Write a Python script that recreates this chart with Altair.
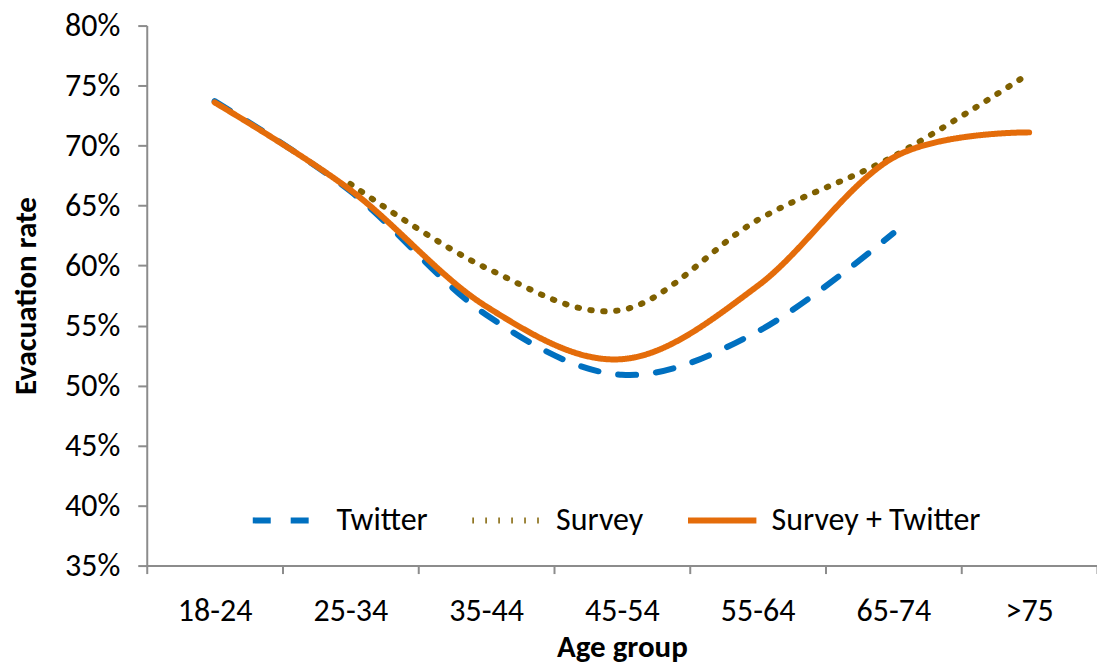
import altair as alt
import pandas as pd

ages = ["18-24", "25-34", "35-44", "45-54", "55-64", "65-74", ">75"]
twitter = [0.737, 0.662, 0.559, 0.509, 0.545, 0.627, None]
survey = [None, 0.668, 0.598, 0.563, 0.638, 0.691, 0.760]
combined = [0.736, 0.663, 0.566, 0.522, 0.583, 0.690, 0.711]
series_names = ["Twitter", "Survey", "Survey + Twitter"]
series_colors = ["#0070C0", "#7F6000", "#E46C0A"]

rows = []
for name, vals in zip(series_names, [twitter, survey, combined]):
    for a, v in zip(ages, vals):
        if v is not None:
            rows.append({"age": a, "rate": v, "series": name})
df = pd.DataFrame(rows)

FONT = "Carlito, 'Noto Sans', sans-serif"
FS = 32
TFS = 31

leg = dict(title=None, orient="none", direction="horizontal",
           legendX=103, legendY=458,
           symbolType="stroke", symbolSize=4700,
           symbolStrokeWidth=6, labelFontSize=FS, labelLimit=0,
           labelOffset=12, columnPadding=32,
           labelColor="#000000", labelFont=FONT)

base = alt.Chart(df).encode(
    x=alt.X("age:N", sort=ages, bandPosition=0.5,
            scale=alt.Scale(type="band", domain=ages, paddingInner=0, paddingOuter=0),
            axis=alt.Axis(title="Age group", labelAngle=0, tickBand="extent",
                          labelFontSize=FS, titleFontSize=TFS, titleFontWeight="bold",
                          labelPadding=22, titlePadding=6, tickSize=8,
                          domainColor="#8c8c8c", tickColor="#8c8c8c",
                          labelColor="#000000", titleColor="#000000",
                          domainWidth=2, tickWidth=2)),
    y=alt.Y("rate:Q", scale=alt.Scale(domain=[0.35, 0.80], nice=False, zero=False),
            axis=alt.Axis(title="Evacuation rate", format=".0%",
                          values=[0.35, 0.40, 0.45, 0.50, 0.55, 0.60, 0.65, 0.70, 0.75, 0.80],
                          grid=False, labelFontSize=FS, titleFontSize=TFS, titleFontWeight="bold",
                          labelPadding=18, titlePadding=22, tickSize=9,
                          domainColor="#8c8c8c", tickColor="#8c8c8c",
                          labelColor="#000000", titleColor="#000000",
                          domainWidth=2, tickWidth=2)),
    color=alt.Color("series:N",
                    scale=alt.Scale(domain=series_names, range=series_colors),
                    legend=alt.Legend(**leg)),
    strokeDash=alt.StrokeDash("series:N",
                              scale=alt.Scale(domain=series_names,
                                              range=[[18, 20], [1.5, 11.5], [1, 0]]),
                              legend=alt.Legend(**leg)),
    detail="series:N",
)

lines = base.mark_line(interpolate="cardinal", strokeWidth=6, strokeCap="round")

chart = lines.properties(
    width=952, height=541,
    autosize=alt.AutoSizeParams(type="none"),
    padding={"left": 139, "top": 17, "right": 0, "bottom": 100},
).configure(
    font=FONT
).configure_view(stroke=None).configure_axis(labelFont=FONT, titleFont=FONT)

chart.save("out.html", embed_options={"renderer": "svg", "actions": False})
